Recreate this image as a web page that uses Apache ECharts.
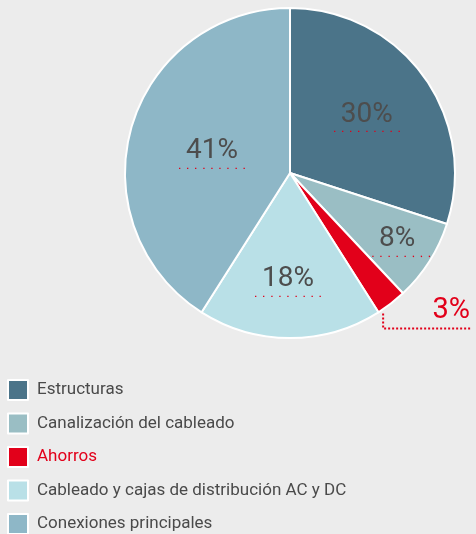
<!DOCTYPE html>
<html>
<head>
<meta charset="utf-8">
<script src="https://cdn.jsdelivr.net/npm/echarts@6/dist/echarts.min.js"></script>
<style>
  html, body { margin: 0; padding: 0; background: #ececec; }
  #main { width: 476px; height: 534px; }
</style>
</head>
<body>
<div id="main"></div>
<script>
// datos del gráfico
var categorias = ['Estructuras', 'Canalización del cableado', 'Ahorros', 'Cableado y cajas de distribución AC y DC', 'Conexiones principales'];
var valores = [30, 8, 3, 18, 41];
var colores = ['#4b7489', '#9abec4', '#e2001a', '#b9e0e7', '#8eb7c7'];

var centro = [290, 173];
var radio = 165;
// distancia de la etiqueta al centro (fracción del radio) y pequeño ajuste
var fraccion = [0.57, 0.77, 0, 0.65, 0.50];
var ajuste = [[-2, 3], [-4, 0], [0, 0], [-2, -1], [4, 6]];
var fuente = 'Liberation Sans Narrow, Roboto, sans-serif';

var chart = echarts.init(document.getElementById('main'));

var datos = [];
for (var i = 0; i < categorias.length; i++) {
    var d = { name: categorias[i], value: valores[i], itemStyle: { color: colores[i] } };
    if (i === 2) {
        d.label = { position: 'outside', formatter: '{r|{c}%}', overflow: 'none' };
        d.labelLine = {
            show: true,
            length: 10,
            length2: 20,
            lineStyle: { color: '#e2001a', type: 'dotted', width: 2 }
        };
    }
    datos.push(d);
}

var option = {
    backgroundColor: '#ececec',
    animation: false,
    legend: {
        orient: 'vertical',
        left: 7,
        top: 379,
        height: 200,
        padding: 0,
        itemWidth: 20,
        itemHeight: 20,
        itemGap: 11.5,
        icon: 'rect',
        itemStyle: { borderColor: '#fff', borderWidth: 2 },
        textStyle: {
            fontFamily: fuente,
            fontSize: 17,
            lineHeight: 20,
            color: '#4a4a4a',
            padding: [0, 0, 0, 4],
            rich: {
                r: { color: '#e2001a', fontSize: 17, lineHeight: 20, fontFamily: fuente }
            }
        },
        formatter: function (name) {
            return name === 'Ahorros' ? '{r|' + name + '}' : name;
        },
        selectedMode: false
    },
    series: [{
        type: 'pie',
        center: centro,
        radius: radio,
        startAngle: 90,
        clockwise: true,
        itemStyle: { borderColor: '#fff', borderWidth: 2 },
        label: {
            show: true,
            position: 'inside',
            formatter: '{t|{c}%}\n{d|·  ·  ·  ·  ·  ·  ·  ·  ·}',
            rich: {
                t: { fontFamily: fuente, fontSize: 28, color: '#4d4d4d', lineHeight: 27, align: 'center' },
                d: { fontFamily: 'DejaVu Sans', fontSize: 7.5, fontWeight: 'bold', color: '#e2001a', lineHeight: 8, align: 'center' },
                r: { fontFamily: fuente, fontSize: 29, color: '#e2001a', lineHeight: 28 }
            }
        },
        labelLayout: function (p) {
            var lr = p.labelRect;
            if (p.dataIndex === 2) {
                var p0 = p.labelLinePoints[0];
                var yl = p0[1] + 25;
                var xr = chart.getWidth() - 4;
                return {
                    x: xr - 2 - lr.width,
                    y: yl - 3 - lr.height / 2,
                    labelLinePoints: [[p0[0] - 8, p0[1] + 10], [p0[0] - 8, yl], [xr, yl]]
                };
            }
            var f = fraccion[p.dataIndex];
            var cx = lr.x + lr.width / 2;
            var cy = lr.y + lr.height / 2;
            var k = f / 0.5 - 1;
            var a = ajuste[p.dataIndex];
            return { dx: (cx - centro[0]) * k + a[0], dy: (cy - centro[1]) * k + a[1] };
        },
        emphasis: { disabled: true },
        data: datos
    }]
};

chart.setOption(option);
</script>
</body>
</html>
